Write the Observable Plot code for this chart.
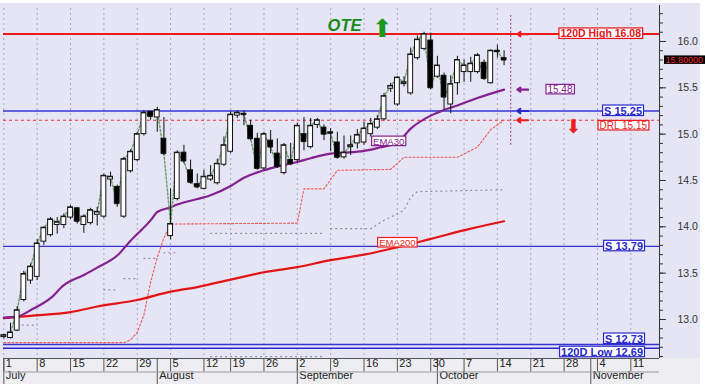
<!DOCTYPE html>
<html>
<head>
<meta charset="utf-8">
<script src="https://cdn.jsdelivr.net/npm/d3@7"></script>
<script src="https://cdn.jsdelivr.net/npm/@observablehq/plot@0.6"></script>
<style>
html,body{margin:0;padding:0;background:#fff;}
#chart svg{display:block;}
</style>
</head>
<body>
<div id="chart"></div>
<script>
// ---------------- data (trading-day index 0 = 1 July 2019) ----------------
const open  = [12.81,12.80,12.88,13.21,13.42,13.46,13.84,13.91,14.02,14.02, 14.10,14.20,14.02,14.04,14.13,14.11,14.51,14.43,14.11,14.60, 14.72,15.00,15.24,15.18,14.95,13.90,14.30,14.80,14.61,14.46, 14.41,14.51,14.47,14.67,14.81,15.20,15.22,15.09,14.95,14.63, 14.93,14.79,14.58,14.72,14.72,15.00,14.86,15.10,15.07,15.02, 14.91,14.75,14.86,14.90,14.91,15.00,15.07,15.16,15.49,15.32, 15.54,15.44,15.82,15.92,16.01,15.62,15.63,15.32,15.55,15.67, 15.67,15.67,15.77,15.55,15.90,15.82];
const high  = [12.84,12.96,13.14,13.52,13.60,13.86,14.00,14.10,14.10,14.14, 14.23,14.21,14.13,14.20,14.21,14.57,14.59,14.45,14.75,14.83, 15.02,15.25,15.25,15.29,15.18,14.41,14.82,14.88,14.72,14.57, 14.61,14.66,14.73,14.97,15.24,15.25,15.25,15.15,15.01,15.02, 15.04,14.95,14.90,14.90,15.12,15.18,15.17,15.17,15.10,15.06, 15.02,14.98,14.98,15.05,15.13,15.17,15.20,15.44,15.55,15.62, 15.62,15.93,16.06,16.10,16.09,15.84,15.66,15.63,15.84,15.80, 15.83,15.87,15.80,15.91,15.96,15.90];
const low   = [12.79,12.79,12.87,13.19,13.38,13.42,13.80,13.89,13.92,13.98, 14.08,14.03,13.93,14.02,14.01,14.09,14.43,14.21,14.09,14.58, 14.70,14.98,15.15,15.02,14.77,13.86,14.28,14.68,14.46,14.41, 14.40,14.49,14.45,14.65,14.79,15.17,15.09,14.93,14.61,14.61, 14.79,14.63,14.56,14.66,14.70,14.82,14.84,15.06,14.93,14.81, 14.73,14.73,14.77,14.84,14.88,14.97,15.05,15.14,15.45,15.30, 15.51,15.42,15.80,15.90,15.48,15.60,15.26,15.22,15.42,15.56, 15.56,15.65,15.58,15.54,15.82,15.74];
const close = [12.83,12.86,13.10,13.49,13.57,13.82,13.99,14.08,14.05,14.11, 14.21,14.06,14.11,14.18,14.16,14.55,14.54,14.25,14.73,14.81, 15.00,15.23,15.19,15.26,14.79,14.03,14.80,14.71,14.48,14.43, 14.54,14.55,14.68,14.88,15.21,15.23,15.21,14.95,14.63,15.00, 14.86,14.65,14.88,14.68,15.09,14.92,15.09,15.15,15.00,15.01, 14.75,14.80,14.88,14.99,15.06,15.11,15.16,15.41,15.52,15.61, 15.56,15.86,16.02,16.08,15.50,15.74,15.40,15.54,15.80,15.74, 15.76,15.85,15.60,15.90,15.89,15.80];

const ema30Idx  = [0,2,4,7,9,12,14,17,19,22,23,25,26,29,31,34,36,39,41,44,46,49,51,54,56,59,61,64,66,68,71,75];
const ema30Val  = [13.02,13.03,13.10,13.23,13.37,13.48,13.56,13.69,13.85,14.07,14.16,14.21,14.24,14.30,14.34,14.44,14.53,14.61,14.65,14.70,14.74,14.79,14.80,14.82,14.85,14.91,15.06,15.20,15.26,15.31,15.39,15.48];
const ema200Idx = [0,4,10,14,20,25,29,34,39,44,49,54,59,64,70,75];
const ema200Val = [13.015,13.04,13.08,13.14,13.21,13.30,13.35,13.43,13.51,13.565,13.64,13.70,13.78,13.87,13.98,14.06];
const drlIdx = [0,18,19,20,21,22,23,24,25,44,45,48,50,58,60,68,71,73,75];
const drlVal = [12.75,12.75,12.78,12.86,13.05,13.40,13.67,13.88,14.03,14.04,14.41,14.41,14.61,14.62,14.75,14.75,14.86,15.05,15.15];
const trailIdx = [2,5,5.5,15,17,17.5,18,20,20.5,21,23,23.5,24,26,26.5,31,48,48.5,49,55,57,59,60,61,62,75];
const trailVal = [12.94,12.94,NaN,13.32,13.32,NaN,13.44,13.44,NaN,13.66,13.66,NaN,13.72,13.72,NaN,13.93,13.93,NaN,13.98,13.98,14.07,14.14,14.18,14.32,14.38,14.40];
const lowTrailIdx = [31,48];
const lowTrailVal = [12.60,12.60];

const levelNames = ["120D High 16.08","S 15.25","DRL 15.15","S 13,79","S 12,73","120D Low 12,69"];
const levelVals  = [16.08,15.25,15.15,13.79,12.73,12.69];

const weekTickIdx    = [0,5,10,15,20,25,30,34,39,44,49,54,59,64,69,74,79,84,89,94];
const weekTickLabels = ["1","8","15","22","29","5","12","19","26","2","9","16","23","30","7","14","21","28","4","11"];
const monthIdx    = [0,23,44,65,88];
const monthLabels = ["July","August","September","October","November"];
const yTicks = [13,13.5,14,14.5,15,15.5,16];
const lastPrice = 15.80;
const title = "OTE";

// ---------------- derived tables ----------------
const candles = open.map((o, i) => ({i, o, h: high[i], l: low[i], c: close[i]}));
const upC = candles.filter(d => d.c >= d.o);
const dnC = candles.filter(d => d.c < d.o);
const toPts = (xs, ys) => xs.map((x, k) => ({x, y: ys[k]}));
const ema30 = toPts(ema30Idx, ema30Val);
const ema200 = toPts(ema200Idx, ema200Val);
const drl = toPts(drlIdx, drlVal);
const trail = toPts(trailIdx, trailVal);
const lowTrail = toPts(lowTrailIdx, lowTrailVal);
const lastIdx = candles.length - 1;
const ema30Last = ema30Val[ema30Val.length - 1];

const xMax = 98.3, yMin = 12.579, yMax = 16.356;
const hw = 0.36;
const minorTicks = d3.range(126, 164).map(v => v / 10);

const RED = "#ee1c1c", BLUE = "#2828cc", PURPLE = "#84208f", GREEN = "#1a9a1a";
const FONT = "'Liberation Sans', Arial, sans-serif";

const levelStyle = [
  {fill: "#e8141a", w: "bold",   s: 10.5, dx: -18.5, dy: 0},
  {fill: BLUE,      w: "bold",   s: 11,   dx: -17.5, dy: 0},
  {fill: RED,       w: "normal", s: 10,   dx: -12.5, dy: 5.5},
  {fill: BLUE,      w: "bold",   s: 11,   dx: -16.5, dy: 0},
  {fill: BLUE,      w: "bold",   s: 11,   dx: -16.5, dy: -5.5},
  {fill: BLUE,      w: "bold",   s: 11,   dx: -16.5, dy: 4}
];

const levelTexts = levelNames.map((name, k) => Plot.text([levelVals[k]], {
  y: d => d, text: [name], frameAnchor: "right", textAnchor: "end",
  dx: levelStyle[k].dx, dy: levelStyle[k].dy, fill: levelStyle[k].fill,
  fontWeight: levelStyle[k].w, fontSize: levelStyle[k].s
}));

// small pointer arrows to the level lines (drawn as arrows, not text)
const arrowLevels = [
  {v: levelVals[0], c: RED}, {v: ema30Last, c: PURPLE}, {v: levelVals[1], c: BLUE}, {v: levelVals[2], c: RED}
];
const arrowMarks = arrowLevels.map(a => Plot.arrow([a.v], {
  x1: () => lastIdx + 3.6, x2: () => lastIdx + 2.0, y1: d => d, y2: d => d,
  stroke: a.c, strokeWidth: 2.2, headLength: 6, headAngle: 70
}));

const plot = Plot.plot({
  width: 705, height: 384,
  marginLeft: 3, marginRight: 46, marginTop: 8, marginBottom: 26,
  x: {domain: [-0.05, xMax], label: null},
  y: {domain: [yMin, yMax], label: null},
  style: {fontFamily: FONT},
  marks: [
    Plot.ruleX(weekTickIdx, {stroke: "#a6a6c2", strokeDasharray: "2,3"}),
    Plot.ruleY([levelVals[0]], {stroke: "#f01818", strokeWidth: 2}),
    Plot.ruleY([levelVals[1], levelVals[3], levelVals[4]], {stroke: "#3434d4", strokeWidth: 1.3}),
    Plot.ruleY([levelVals[5]], {stroke: "#2a2ad0", strokeWidth: 1.6}),
    Plot.ruleY([levelVals[2]], {stroke: "#f03030", strokeDasharray: "3,3"}),
    Plot.line(trail, {x: "x", y: "y", stroke: "#8c8c9c", strokeDasharray: "1,4", strokeWidth: 1.2}),
    Plot.line(lowTrail, {x: "x", y: "y", stroke: "#8c8c9c", strokeDasharray: "1,4", strokeWidth: 1.2}),
    Plot.line(drl, {x: "x", y: "y", stroke: "#f25a5a", strokeDasharray: "2,2", strokeWidth: 1.1}),
    Plot.line(ema200, {x: "x", y: "y", stroke: "#e41414", strokeWidth: 2.2, curve: "monotone-x"}),
    Plot.line(ema30, {x: "x", y: "y", stroke: PURPLE, strokeWidth: 2.2, curve: "monotone-x"}),
    Plot.line(candles, {x: "i", y: "c", stroke: "#6e9e6e", strokeDasharray: "2,2"}),
    // candles
    Plot.ruleX(candles, {x: "i", y1: "l", y2: "h", stroke: "#111"}),
    Plot.rect(upC, {x1: d => d.i - hw, x2: d => d.i + hw, y1: "o", y2: "c", fill: "#fff", stroke: "#111"}),
    Plot.rect(dnC, {x1: d => d.i - hw, x2: d => d.i + hw, y1: "c", y2: "o", fill: "#000", stroke: "#111"}),
    Plot.ruleY(candles, {y: "c", x1: d => d.i - hw, x2: d => d.i + hw, stroke: "#111"}),
    // current bar marker
    Plot.ruleX([lastIdx + 1], {y1: 14.88, y2: 16.28, stroke: "#8a3a9a", strokeDasharray: "2,2"}),
    // axes
    Plot.axisY(yTicks, {anchor: "right", tickSize: 6, tickPadding: 12, tickFormat: d3.format(".1f"), fontSize: 10.5, label: null, color: "#333"}),
    Plot.axisY(minorTicks, {anchor: "right", tickSize: 3, tickFormat: () => "", label: null, color: "#333"}),
    Plot.axisX(weekTickIdx, {anchor: "bottom", tickSize: 13.5, tickFormat: () => "", label: null, color: "#555"}),
    Plot.axisX(monthIdx, {anchor: "bottom", tickSize: 26, tickFormat: () => "", label: null, color: "#555"}),
    Plot.text(weekTickIdx, {x: d => d, text: (d, k) => weekTickLabels[k], frameAnchor: "bottom", dy: 8, dx: 2, textAnchor: "start", fontSize: 11, fill: "#222"}),
    Plot.text(monthIdx, {x: d => d, text: (d, k) => monthLabels[k], frameAnchor: "bottom", dy: 20.5, dx: 2, textAnchor: "start", fontSize: 11, fill: "#222"}),
    Plot.ruleY([yMin], {stroke: "#555"}),
    Plot.ruleY([yMin], {dy: 13.5, stroke: "#999"}),
    Plot.ruleX([xMax], {stroke: "#333", insetTop: -3}),
    // annotations
    ...levelTexts,
    ...arrowMarks,
    Plot.text([ema30Last], {y: d => d, text: [d3.format(".2f")(ema30Last)], frameAnchor: "right", dx: -87, fill: PURPLE, fontSize: 10}),
    Plot.text([levelVals[2]], {y: d => d, text: ["⬇"], frameAnchor: "right", dx: -78, dy: 7, fill: RED, fontSize: 19, fontFamily: "DejaVu Sans"}),
    Plot.text([{x: 57.7, y: 14.92}], {x: "x", y: "y", text: ["EMA30"], fill: PURPLE, fontSize: 9.5}),
    Plot.text([{x: 59.0, y: 13.826}], {x: "x", y: "y", text: ["EMA200"], fill: RED, fontSize: 9.5}),
    Plot.text([lastPrice], {y: d => d, text: [d3.format(".5f")(lastPrice)], frameAnchor: "right", dx: 6, textAnchor: "start", fill: "#ff2a2a", fontSize: 9}),
    Plot.text([title], {frameAnchor: "top", dx: 13, dy: 10.5, fill: "#168a16", fontSize: 16.5, fontWeight: "bold", fontStyle: "italic"}),
    Plot.text(["⬆"], {frameAnchor: "top", dx: 51, dy: 11, fill: GREEN, fontSize: 25, fontFamily: "DejaVu Sans"})
  ]
});

plot.style.background = "linear-gradient(to right, transparent 700px, #fff 700px), linear-gradient(to bottom, #fff 0 3px, #e5e5f5 3px 358px, #eeeef2 358px)";
document.getElementById("chart").append(plot);

// boxes behind the annotation labels
const boxStyle = {
  "120D High 16.08": ["#e8141a", "#fff"],
  "S 15.25": [BLUE, "#fff"],
  "DRL 15.15": [RED, "#fff"],
  "S 13,79": [BLUE, "#fff"],
  "S 12,73": [BLUE, "#fff"],
  "120D Low 12,69": [BLUE, "#fff"],
  "EMA30": [PURPLE, "#fff"],
  "EMA200": [RED, "#fff"],
  "15.80000": ["none", "#000"]
};
boxStyle[d3.format(".2f")(ema30Last)] = [PURPLE, "#fff"];
const NS = "http://www.w3.org/2000/svg";
plot.querySelectorAll("text").forEach(t => {
  const s = boxStyle[t.textContent];
  if (!s) return;
  const b = t.getBBox();
  const r = document.createElementNS(NS, "rect");
  r.setAttribute("x", b.x - 1.5);
  r.setAttribute("y", b.y + 0.5);
  r.setAttribute("width", s[1] === "#000" ? 60 : b.width + 3);
  r.setAttribute("height", b.height - 1.5);
  r.setAttribute("fill", s[1]);
  r.setAttribute("stroke", s[0]);
  r.setAttribute("stroke-width", 1.2);
  const tr = t.getAttribute("transform");
  if (tr) r.setAttribute("transform", tr);
  t.parentNode.insertBefore(r, t);
});
</script>
</body>
</html>
